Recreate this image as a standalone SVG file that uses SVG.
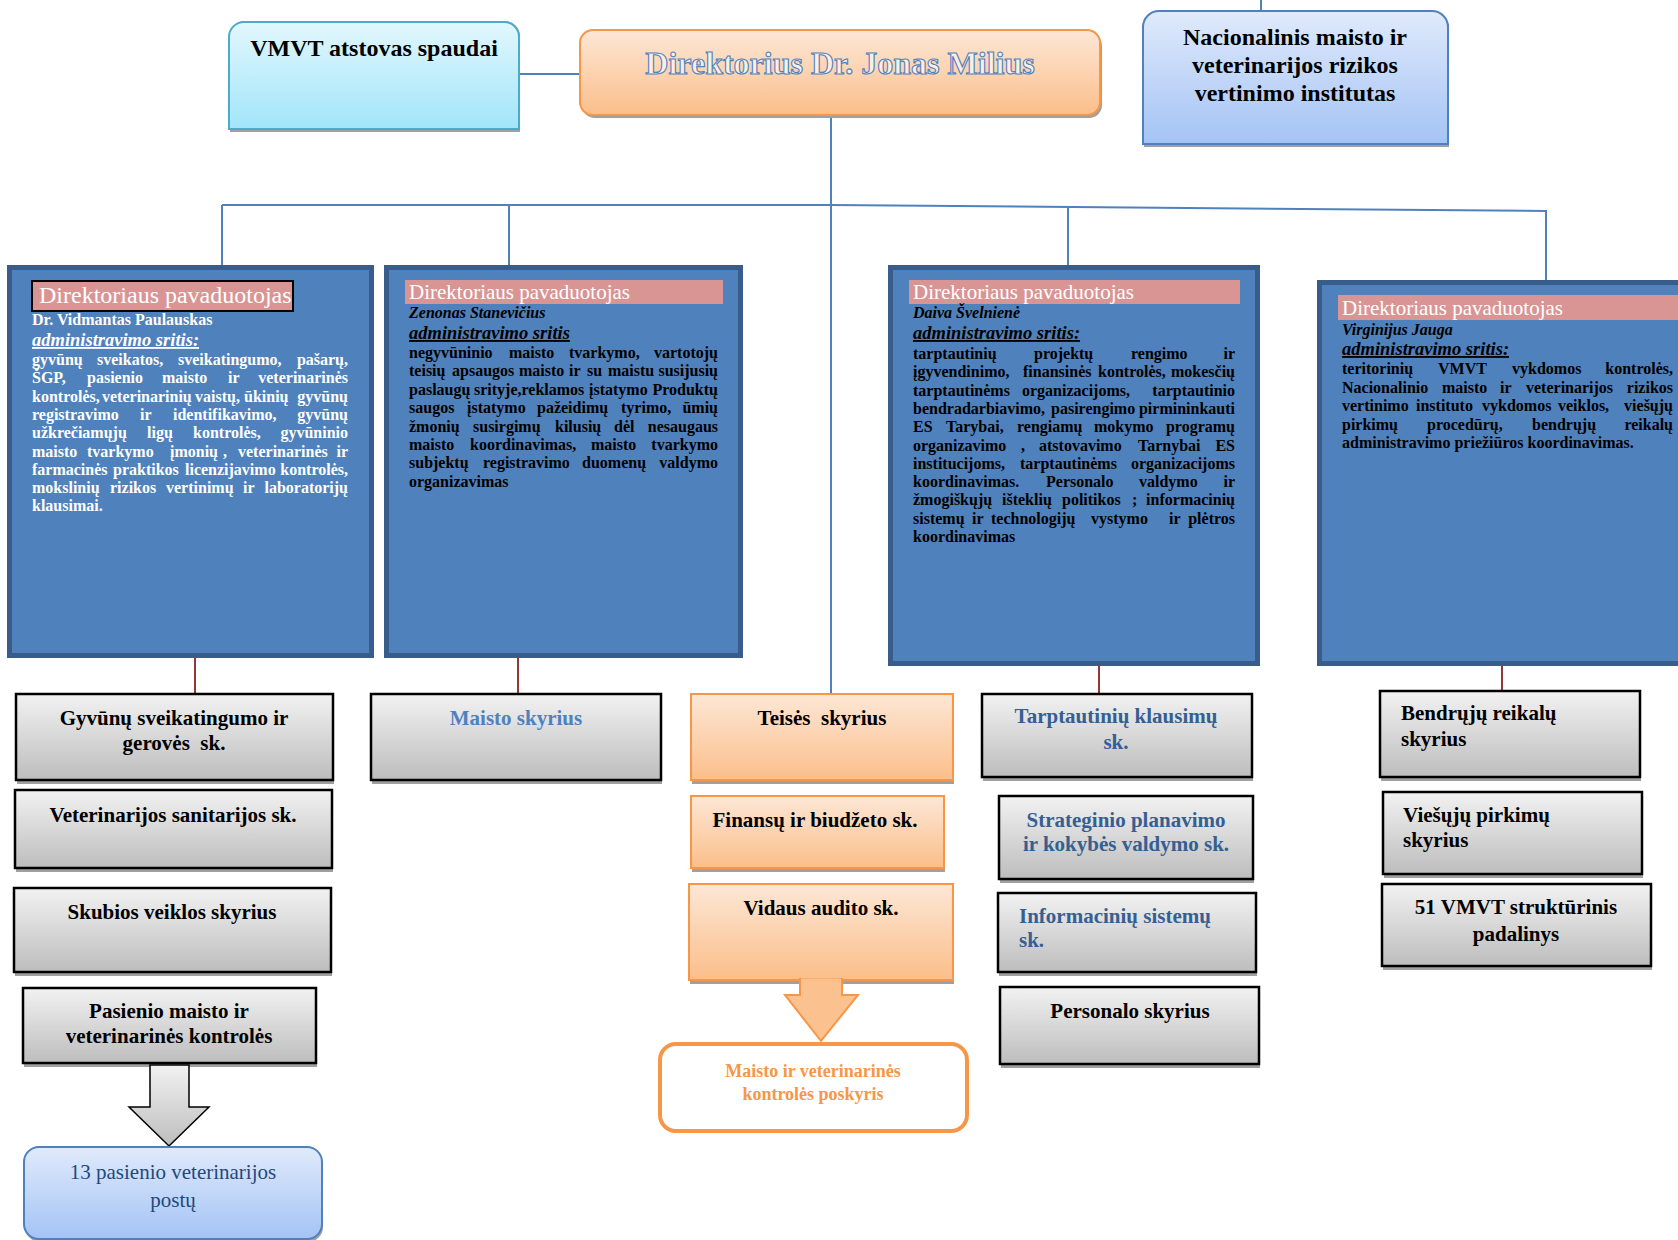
<svg xmlns="http://www.w3.org/2000/svg" width="1678" height="1240" viewBox="0 0 1678 1240">
<defs>
<linearGradient id="gGray" x1="0" y1="0" x2="0" y2="1"><stop offset="0" stop-color="#f2f2f2"/><stop offset="1" stop-color="#bdbdbd"/></linearGradient>
<linearGradient id="gPeach" x1="0" y1="0" x2="0" y2="1"><stop offset="0" stop-color="#fde7d6"/><stop offset="1" stop-color="#fbbe8a"/></linearGradient>
<linearGradient id="gCyan" x1="0" y1="0" x2="0" y2="1"><stop offset="0" stop-color="#e2f7fd"/><stop offset="1" stop-color="#a2e5fa"/></linearGradient>
<linearGradient id="gBlue" x1="0" y1="0" x2="0" y2="1"><stop offset="0" stop-color="#e0eafb"/><stop offset="1" stop-color="#a4c3f5"/></linearGradient>
<style>
text{font-family:"Liberation Serif","Times New Roman",serif}
.shd{fill:#a0a0a0}
.gray{fill:url(#gGray);stroke:#000;stroke-width:2.5}
.peach{fill:url(#gPeach);stroke:#f79646;stroke-width:2}
.dep{fill:#4f81bd;stroke:#385d8a;stroke-width:5}
.pink{fill:#d99594}
.lbl{font-size:21px;font-weight:bold;fill:#000;text-anchor:middle}
.lbll{font-size:21px;font-weight:bold;fill:#000}
.blue1{fill:#4f81bd}
.blue2{fill:#365f91}
.hdr{font-size:21px;fill:#fff}
.name{font-size:16px;font-weight:bold;font-style:italic;fill:#000}
.adm{font-size:18.5px;font-weight:bold;font-style:italic;text-decoration:underline;fill:#000}
.body text{font-size:16px;font-weight:bold;fill:#000}
.body.w text{fill:#fff}
.w{fill:#fff}
.e{text-anchor:end}
.con{stroke:#4f81bd;stroke-width:2;fill:none}
.red{stroke:#953735;stroke-width:2;fill:none}
</style>
</defs>

<g id="connectors">
<line class="con" x1="519" y1="74" x2="580" y2="74"/>
<line class="con" x1="831" y1="115" x2="831" y2="694"/>
<line class="con" x1="222" y1="205" x2="831" y2="205"/>
<line class="con" x1="831" y1="205" x2="1547" y2="211"/>
<line class="con" x1="222" y1="205" x2="222" y2="266"/>
<line class="con" x1="509" y1="205" x2="509" y2="266"/>
<line class="con" x1="1068" y1="208" x2="1068" y2="266"/>
<line class="con" x1="1546" y1="211" x2="1546" y2="281"/>
<line class="con" x1="1261" y1="0" x2="1261" y2="12"/>
<line class="red" x1="195" y1="657" x2="195" y2="694"/>
<line class="red" x1="518" y1="657" x2="518" y2="694"/>
<line class="red" x1="1099" y1="666" x2="1099" y2="694"/>
<line class="red" x1="1502" y1="666" x2="1502" y2="691"/>
</g>

<g id="vmvt-spauda">
<path class="shd" d="M230,36 a15,15 0 0 1 15,-15 h260 a15,15 0 0 1 15,15 v96 h-290z"/>
<path d="M229,37 a15,15 0 0 1 15,-15 h260 a15,15 0 0 1 15,15 v92 h-290z" fill="url(#gCyan)" stroke="#4bacc6" stroke-width="2"/>
<text class="lbl" x="374" y="56" style="font-size:24px">VMVT atstovas spaudai</text>
</g>

<g id="direktorius">
<rect x="582" y="33" width="520" height="85" rx="13" class="shd"/>
<rect x="580" y="30" width="520" height="85" rx="13" fill="url(#gPeach)" stroke="#f79646" stroke-width="2"/>
<text x="840" y="74" text-anchor="middle" font-size="32" font-weight="bold" fill="#fdeee3" stroke="#4f81bd" stroke-width="1.1">Direktorius Dr. Jonas Milius</text>
</g>

<g id="institutas">
<path class="shd" d="M1144,28 a16,16 0 0 1 16,-16 h273 a16,16 0 0 1 16,16 v119 h-305z"/>
<path d="M1143,27 a16,16 0 0 1 16,-16 h273 a16,16 0 0 1 16,16 v117 h-305z" fill="url(#gBlue)" stroke="#4f81bd" stroke-width="2"/>
<text class="lbl" x="1295" style="font-size:24px"><tspan x="1295" y="45">Nacionalinis maisto ir</tspan><tspan x="1295" y="73">veterinarijos rizikos</tspan><tspan x="1295" y="101">vertinimo institutas</tspan></text>
</g>

<g id="pavaduotojas1">
<rect class="dep" x="9.5" y="267.5" width="362" height="388"/>
<rect x="32" y="281" width="261" height="30" class="pink" stroke="#000" stroke-width="2"/>
<text class="hdr" x="39" y="303" style="font-size:24px">Direktoriaus pavaduotojas</text>
<text class="name w" x="32" y="325" style="font-style:normal">Dr. Vidmantas Paulauskas</text>
<text class="adm w" x="32" y="346">administravimo sritis:</text>
<g class="body w">
<text y="365"><tspan x="32">gyvūnų</tspan><tspan x="97">sveikatos,</tspan><tspan x="178">sveikatingumo,</tspan><tspan x="348" class="e">pašarų,</tspan></text>
<text y="383.3"><tspan x="32">ŠGP,</tspan><tspan x="87">pasienio</tspan><tspan x="162">maisto</tspan><tspan x="228">ir</tspan><tspan x="348" class="e">veterinarinės</tspan></text>
<text y="401.6"><tspan x="32">kontrolės,</tspan><tspan x="102">veterinarinių</tspan><tspan x="195">vaistų,</tspan><tspan x="244">ūkinių</tspan><tspan x="348" class="e">gyvūnų</tspan></text>
<text y="419.9"><tspan x="32">registravimo</tspan><tspan x="140">ir</tspan><tspan x="173">identifikavimo,</tspan><tspan x="348" class="e">gyvūnų</tspan></text>
<text y="438.2"><tspan x="32">užkrečiamųjų</tspan><tspan x="147">ligų</tspan><tspan x="193">kontrolės,</tspan><tspan x="348" class="e">gyvūninio</tspan></text>
<text y="456.5"><tspan x="32">maisto</tspan><tspan x="87">tvarkymo</tspan><tspan x="170">įmonių</tspan><tspan x="223">,</tspan><tspan x="238">veterinarinės</tspan><tspan x="348" class="e">ir</tspan></text>
<text y="474.8"><tspan x="32">farmacinės</tspan><tspan x="113">praktikos</tspan><tspan x="185">licenzijavimo</tspan><tspan x="348" class="e">kontrolės,</tspan></text>
<text y="493.1"><tspan x="32">mokslinių</tspan><tspan x="110">rizikos</tspan><tspan x="166">vertinimų</tspan><tspan x="243">ir</tspan><tspan x="348" class="e">laboratorijų</tspan></text>
<text x="32" y="511.4">klausimai.</text>
</g>
</g>

<g id="pavaduotojas2">
<rect class="dep" x="386.5" y="267.5" width="354" height="388"/>
<rect x="405" y="280" width="318" height="24" class="pink"/>
<text class="hdr" x="409" y="299">Direktoriaus pavaduotojas</text>
<text class="name" x="409" y="318">Zenonas Stanevičius</text>
<text class="adm" x="409" y="339">administravimo sritis</text>
<g class="body">
<text y="358"><tspan x="409">negyvūninio</tspan><tspan x="509">maisto</tspan><tspan x="569">tvarkymo,</tspan><tspan x="718" class="e">vartotojų</tspan></text>
<text y="376.4"><tspan x="409">teisių</tspan><tspan x="452">apsaugos</tspan><tspan x="519">maisto</tspan><tspan x="569">ir</tspan><tspan x="587">su</tspan><tspan x="608">maistu</tspan><tspan x="718" class="e">susijusių</tspan></text>
<text y="394.8"><tspan x="409">paslaugų</tspan><tspan x="474">srityje,reklamos</tspan><tspan x="589">įstatymo</tspan><tspan x="718" class="e">Produktų</tspan></text>
<text y="413.2"><tspan x="409">saugos</tspan><tspan x="467">įstatymo</tspan><tspan x="537">pažeidimų</tspan><tspan x="621">tyrimo,</tspan><tspan x="718" class="e">ūmių</tspan></text>
<text y="431.6"><tspan x="409">žmonių</tspan><tspan x="473">susirgimų</tspan><tspan x="555">kilusių</tspan><tspan x="614">dėl</tspan><tspan x="718" class="e">nesaugaus</tspan></text>
<text y="450"><tspan x="409">maisto</tspan><tspan x="470">koordinavimas,</tspan><tspan x="591">maisto</tspan><tspan x="718" class="e">tvarkymo</tspan></text>
<text y="468.4"><tspan x="409">subjektų</tspan><tspan x="483">registravimo</tspan><tspan x="582">duomenų</tspan><tspan x="718" class="e">valdymo</tspan></text>
<text x="409" y="486.8">organizavimas</text>
</g>
</g>

<g id="pavaduotojas3">
<rect class="dep" x="890.5" y="267.5" width="367" height="396"/>
<rect x="909" y="280" width="331" height="24" class="pink"/>
<text class="hdr" x="913" y="299">Direktoriaus pavaduotojas</text>
<text class="name" x="913" y="318">Daiva Švelnienė</text>
<text class="adm" x="913" y="339">administravimo sritis:</text>
<g class="body">
<text y="359"><tspan x="913">tarptautinių</tspan><tspan x="1034">projektų</tspan><tspan x="1131">rengimo</tspan><tspan x="1235" class="e">ir</tspan></text>
<text y="377.3"><tspan x="913">įgyvendinimo,</tspan><tspan x="1023">finansinės</tspan><tspan x="1098">kontrolės,</tspan><tspan x="1235" class="e">mokesčių</tspan></text>
<text y="395.6"><tspan x="913">tarptautinėms</tspan><tspan x="1022">organizacijoms,</tspan><tspan x="1235" class="e">tarptautinio</tspan></text>
<text y="413.9"><tspan x="913">bendradarbiavimo,</tspan><tspan x="1051">pasirengimo</tspan><tspan x="1235" class="e">pirmininkauti</tspan></text>
<text y="432.2"><tspan x="913">ES</tspan><tspan x="946">Tarybai,</tspan><tspan x="1017">rengiamų</tspan><tspan x="1094">mokymo</tspan><tspan x="1235" class="e">programų</tspan></text>
<text y="450.5"><tspan x="913">organizavimo</tspan><tspan x="1021">,</tspan><tspan x="1039">atstovavimo</tspan><tspan x="1138">Tarnybai</tspan><tspan x="1235" class="e">ES</tspan></text>
<text y="468.8"><tspan x="913">institucijoms,</tspan><tspan x="1020">tarptautinėms</tspan><tspan x="1235" class="e">organizacijoms</tspan></text>
<text y="487.1"><tspan x="913">koordinavimas.</tspan><tspan x="1046">Personalo</tspan><tspan x="1139">valdymo</tspan><tspan x="1235" class="e">ir</tspan></text>
<text y="505.4"><tspan x="913">žmogiškųjų</tspan><tspan x="1002">išteklių</tspan><tspan x="1062">politikos</tspan><tspan x="1132">;</tspan><tspan x="1235" class="e">informacinių</tspan></text>
<text y="523.7"><tspan x="913">sistemų</tspan><tspan x="972">ir</tspan><tspan x="991">technologijų</tspan><tspan x="1091">vystymo</tspan><tspan x="1169">ir</tspan><tspan x="1235" class="e">plėtros</tspan></text>
<text x="913" y="542">koordinavimas</text>
</g>
</g>

<g id="pavaduotojas4">
<rect class="dep" x="1319.5" y="282.5" width="380" height="381"/>
<rect x="1338" y="295" width="345" height="25" class="pink"/>
<text class="hdr" x="1342" y="315">Direktoriaus pavaduotojas</text>
<text class="name" x="1342" y="335">Virginijus Jauga</text>
<text class="adm" x="1342" y="355">administravimo sritis:</text>
<g class="body">
<text y="374"><tspan x="1342">teritorinių</tspan><tspan x="1438">VMVT</tspan><tspan x="1512">vykdomos</tspan><tspan x="1673" class="e">kontrolės,</tspan></text>
<text y="392.5"><tspan x="1342">Nacionalinio</tspan><tspan x="1442">maisto</tspan><tspan x="1500">ir</tspan><tspan x="1526">veterinarijos</tspan><tspan x="1673" class="e">rizikos</tspan></text>
<text y="411"><tspan x="1342">vertinimo</tspan><tspan x="1416">instituto</tspan><tspan x="1482">vykdomos</tspan><tspan x="1558">veiklos,</tspan><tspan x="1673" class="e">viešųjų</tspan></text>
<text y="429.5"><tspan x="1342">pirkimų</tspan><tspan x="1427">procedūrų,</tspan><tspan x="1532">bendrųjų</tspan><tspan x="1673" class="e">reikalų</tspan></text>
<text x="1342" y="448">administravimo priežiūros koordinavimas.</text>
</g>
</g>

<g id="gyvunu-sk">
<rect class="shd" x="17" y="698" width="317" height="86"/>
<rect class="gray" x="16" y="694" width="317" height="86"/>
<text class="lbl" xml:space="preserve"><tspan x="174" y="725">Gyvūnų sveikatingumo ir</tspan><tspan x="174" y="750">gerovės  sk.</tspan></text>
</g>
<g id="veterinarijos-sk">
<rect class="shd" x="16" y="794" width="317" height="78"/>
<rect class="gray" x="15" y="790" width="317" height="78"/>
<text class="lbl" x="173" y="822">Veterinarijos sanitarijos sk.</text>
</g>
<g id="skubios-sk">
<rect class="shd" x="15" y="892" width="317" height="84"/>
<rect class="gray" x="14" y="888" width="317" height="84"/>
<text class="lbl" x="172" y="919">Skubios veiklos skyrius</text>
</g>
<g id="pasienio-sk">
<rect class="shd" x="24" y="992" width="293" height="75"/>
<rect class="gray" x="23" y="988" width="293" height="75"/>
<text class="lbl"><tspan x="169" y="1018">Pasienio maisto ir</tspan><tspan x="169" y="1043">veterinarinės kontrolės</tspan></text>
<polygon points="150,1065 189,1065 189,1107 209,1107 169,1146 129,1107 150,1107" fill="url(#gGray)" stroke="#000" stroke-width="1.5"/>
</g>
<g id="pasienio-postai">
<rect class="shd" x="25" y="1150" width="298" height="92" rx="15"/>
<rect x="24" y="1147" width="298" height="92" rx="15" fill="url(#gBlue)" stroke="#4f81bd" stroke-width="2"/>
<text x="173" text-anchor="middle" font-size="21" fill="#1f497d"><tspan x="173" y="1179">13 pasienio veterinarijos</tspan><tspan x="173" y="1207">postų</tspan></text>
</g>

<g id="maisto-sk">
<rect class="shd" x="372" y="698" width="290" height="86"/>
<rect class="gray" x="371" y="694" width="290" height="86"/>
<text class="lbl blue1" x="516" y="725">Maisto skyrius</text>
</g>

<g id="teises-sk">
<rect class="shd" x="692" y="698" width="262" height="86"/>
<rect class="peach" x="691" y="694" width="262" height="86"/>
<text class="lbl" x="822" y="725" xml:space="preserve">Teisės  skyrius</text>
</g>
<g id="finansu-sk">
<rect class="shd" x="692" y="800" width="253" height="72"/>
<rect class="peach" x="691" y="796" width="253" height="72"/>
<text class="lbl" x="815" y="827">Finansų ir biudžeto sk.</text>
</g>
<g id="vidaus-audito-sk">
<rect class="shd" x="690" y="888" width="264" height="96"/>
<rect class="peach" x="689" y="884" width="264" height="96"/>
<polygon points="800,979 842,979 842,995 858,995 821,1041 785,995 800,995" fill="#fbc18e" stroke="#f79646" stroke-width="2"/>
<line x1="801" y1="980" x2="841" y2="980" stroke="#fbc08c" stroke-width="3"/>
<text class="lbl" x="821" y="915">Vidaus audito sk.</text>
</g>
<g id="poskyris">
<rect x="660" y="1044" width="307" height="87" rx="16" fill="#fff" stroke="#f79646" stroke-width="4"/>
<text x="813" text-anchor="middle" font-size="18" font-weight="bold" fill="#f79646"><tspan x="813" y="1077">Maisto ir veterinarinės</tspan><tspan x="813" y="1100">kontrolės poskyris</tspan></text>
</g>

<g id="tarptautiniu-sk">
<rect class="shd" x="983" y="698" width="270" height="83"/>
<rect class="gray" x="982" y="694" width="270" height="83"/>
<text class="lbl blue2"><tspan x="1116" y="723">Tarptautinių klausimų</tspan><tspan x="1116" y="749">sk.</tspan></text>
</g>
<g id="strateginio-sk">
<rect class="shd" x="1000" y="800" width="254" height="83"/>
<rect class="gray" x="999" y="796" width="254" height="83"/>
<text class="lbl blue2"><tspan x="1126" y="827">Strateginio planavimo</tspan><tspan x="1126" y="851">ir kokybės valdymo sk.</tspan></text>
</g>
<g id="informaciniu-sk">
<rect class="shd" x="999" y="897" width="258" height="79"/>
<rect class="gray" x="998" y="893" width="258" height="79"/>
<text class="lbll blue2"><tspan x="1019" y="923">Informacinių sistemų</tspan><tspan x="1019" y="947">sk.</tspan></text>
</g>
<g id="personalo-sk">
<rect class="shd" x="1001" y="991" width="259" height="77"/>
<rect class="gray" x="1000" y="987" width="259" height="77"/>
<text class="lbl" x="1130" y="1018">Personalo skyrius</text>
</g>

<g id="bendruju-sk">
<rect class="shd" x="1381" y="695" width="260" height="86"/>
<rect class="gray" x="1380" y="691" width="260" height="86"/>
<text class="lbll"><tspan x="1401" y="720">Bendrųjų reikalų</tspan><tspan x="1401" y="746">skyrius</tspan></text>
</g>
<g id="viesuju-sk">
<rect class="shd" x="1384" y="796" width="259" height="82"/>
<rect class="gray" x="1383" y="792" width="259" height="82"/>
<text class="lbll"><tspan x="1403" y="822">Viešųjų pirkimų</tspan><tspan x="1403" y="847">skyrius</tspan></text>
</g>
<g id="padalinys">
<rect class="shd" x="1383" y="888" width="269" height="82"/>
<rect class="gray" x="1382" y="884" width="269" height="82"/>
<text class="lbl"><tspan x="1516" y="914">51 VMVT struktūrinis</tspan><tspan x="1516" y="941">padalinys</tspan></text>
</g>
</svg>
